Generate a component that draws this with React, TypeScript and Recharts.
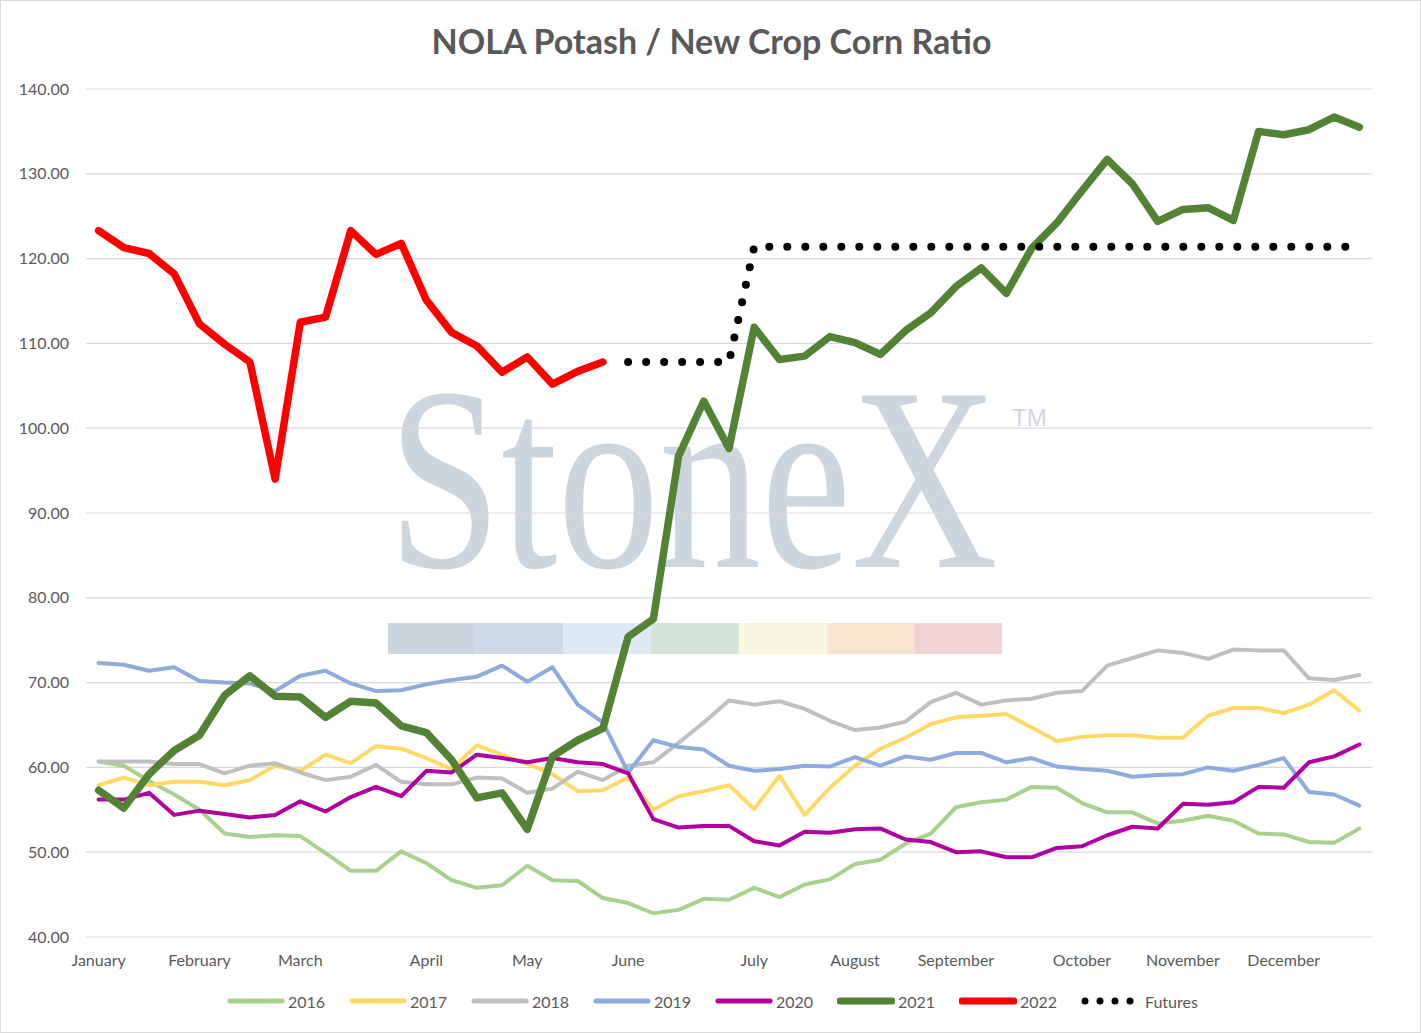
import { LineChart, Line, XAxis, YAxis, CartesianGrid } from "recharts";

// week-of-year category labels (only the first week of each month is labelled)
const weeks = [
  "January", "", "", "",
  "February", "", "", "",
  "March", "", "", "", "",
  "April", "", "", "",
  "May", "", "", "",
  "June", "", "", "", "",
  "July", "", "", "",
  "August", "", "", "",
  "September", "", "", "", "",
  "October", "", "", "",
  "November", "", "", "",
  "December", "", "", "",
];

const yTicks = [40, 50, 60, 70, 80, 90, 100, 110, 120, 130, 140];

const s2016 = [
  60.7, 60.2, 58.4, 56.8, 55.0, 52.2, 51.8, 52.0, 51.9, 49.9,
  47.8, 47.8, 50.1, 48.7, 46.7, 45.8, 46.1, 48.4, 46.7, 46.6,
  44.6, 44.0, 42.8, 43.2, 44.5, 44.4, 45.8, 44.7, 46.2, 46.8,
  48.6, 49.1, 51.0, 52.2, 55.3, 55.9, 56.2, 57.7, 57.6, 55.8,
  54.7, 54.7, 53.4, 53.7, 54.3, 53.7, 52.2, 52.1, 51.2, 51.1, 52.8,
];

const s2017 = [
  57.9, 58.8, 57.9, 58.3, 58.3, 57.9, 58.5, 60.2, 59.6, 61.5,
  60.5, 62.5, 62.2, 61.1, 59.8, 62.6, 61.5, 60.4, 59.2, 57.2,
  57.3, 58.8, 55.0, 56.6, 57.2, 57.9, 55.1, 59.0, 54.4, 57.6,
  60.2, 62.2, 63.5, 65.1, 65.9, 66.1, 66.3, 64.7, 63.1, 63.6,
  63.8, 63.8, 63.5, 63.5, 66.1, 67.0, 67.0, 66.4, 67.4, 69.1, 66.7,
];

const s2018 = [
  60.7, 60.7, 60.7, 60.4, 60.4, 59.3, 60.2, 60.5, 59.4, 58.5,
  58.9, 60.3, 58.3, 58.0, 58.0, 58.8, 58.7, 57.0, 57.5, 59.5,
  58.5, 60.2, 60.6, 62.9, 65.3, 67.9, 67.4, 67.8, 66.9, 65.5,
  64.4, 64.7, 65.4, 67.7, 68.8, 67.4, 67.9, 68.1, 68.8, 69.0,
  72.0, 72.9, 73.8, 73.5, 72.8, 73.9, 73.8, 73.8, 70.5, 70.3, 70.9,
];

const s2019 = [
  72.3, 72.1, 71.4, 71.8, 70.2, 70.0, 69.9, 69.0, 70.8, 71.4,
  69.9, 69.0, 69.1, 69.8, 70.3, 70.7, 72.0, 70.1, 71.8, 67.4,
  65.3, 59.4, 63.2, 62.4, 62.1, 60.2, 59.6, 59.8, 60.2, 60.1,
  61.2, 60.2, 61.3, 60.9, 61.7, 61.7, 60.6, 61.1, 60.1, 59.8,
  59.6, 58.9, 59.1, 59.2, 60.0, 59.6, 60.3, 61.1, 57.1, 56.8, 55.5,
];

const s2020 = [
  56.2, 56.2, 57.0, 54.4, 54.9, 54.5, 54.1, 54.4, 56.0, 54.8,
  56.5, 57.7, 56.6, 59.6, 59.4, 61.5, 61.1, 60.6, 61.1, 60.6,
  60.4, 59.3, 53.9, 52.9, 53.1, 53.1, 51.3, 50.8, 52.4, 52.3,
  52.7, 52.8, 51.5, 51.2, 50.0, 50.1, 49.4, 49.4, 50.5, 50.7,
  52.0, 53.0, 52.8, 55.7, 55.6, 55.9, 57.7, 57.6, 60.6, 61.3, 62.7,
];

const s2021 = [
  57.3, 55.2, 59.2, 62.0, 63.8, 68.5, 70.8, 68.4, 68.3, 65.9,
  67.8, 67.6, 64.9, 64.1, 60.9, 56.4, 57.0, 52.7, 61.3, 63.2,
  64.6, 75.4, 77.5, 96.7, 103.2, 97.6, 111.9, 108.1, 108.5, 110.8,
  110.1, 108.7, 111.5, 113.6, 116.7, 118.9, 115.9, 121.2, 124.2, 128.0,
  131.7, 128.8, 124.4, 125.8, 126.0, 124.5, 135.0, 134.6, 135.2, 136.7, 135.5,
];

const s2022 = [
  123.3, 121.3, 120.6, 118.2, 112.3, 109.9, 107.8, 94.0, 112.5, 113.1,
  123.3, 120.5, 121.8, 115.1, 111.3, 109.7, 106.6, 108.4, 105.2, 106.7,
  107.8,
];

const futures = [
  null, null, null, null, null, null, null, null, null, null,
  null, null, null, null, null, null, null, null, null, null,
  null, 107.8, 107.8, 107.8, 107.8, 107.8, 121.4, 121.4, 121.4, 121.4,
  121.4, 121.4, 121.4, 121.4, 121.4, 121.4, 121.4, 121.4, 121.4, 121.4,
  121.4, 121.4, 121.4, 121.4, 121.4, 121.4, 121.4, 121.4, 121.4, 121.4, 121.4,
];

const data = weeks.map((week, i) => ({
  i,
  week,
  y2016: s2016[i],
  y2017: s2017[i],
  y2018: s2018[i],
  y2019: s2019[i],
  y2020: s2020[i],
  y2021: s2021[i],
  y2022: s2022[i] ?? null,
  futures: futures[i],
}));

const series = [
  { key: "y2016", name: "2016", color: "#A9D18E", width: 4 },
  { key: "y2017", name: "2017", color: "#FFD966", width: 4 },
  { key: "y2018", name: "2018", color: "#BFBFBF", width: 4 },
  { key: "y2019", name: "2019", color: "#8FAADC", width: 4 },
  { key: "y2020", name: "2020", color: "#B000A0", width: 4 },
  { key: "y2021", name: "2021", color: "#548235", width: 7.5 },
  { key: "y2022", name: "2022", color: "#FF0000", width: 7.5 },
];

const FONT = "Lato, 'Noto Sans', sans-serif";
const TEXT = "#595959";

const barColors = ["#CDD5DF", "#CFDAE8", "#DDEAF4", "#D3E2D6", "#F7F6DE", "#F9E5CF", "#F1D2D5"];

function Watermark() {
  return (
    <svg width={1421} height={1033} style={{ position: "absolute", left: 0, top: 0 }}>
      <text
        transform="translate(387,566) scale(1,1.29)"
        fontFamily="'Liberation Serif', 'DejaVu Serif', serif"
        fontSize={203}
        fill="#CDD5DF"
        textLength={610}
        lengthAdjust="spacingAndGlyphs"
      >
        StoneX
      </text>
      <text x={1011} y={425} fontFamily="'Liberation Sans Narrow', 'Liberation Sans', sans-serif" fontSize={24} fill="#CDD5DF">
        TM
      </text>
      {barColors.map((c, k) => (
        <rect key={c} x={387 + k * 87.7} y={622} width={87.7} height={31} fill={c} />
      ))}
    </svg>
  );
}

function LegendRow() {
  return (
    <div style={{ position: "absolute", left: 0, top: 988, width: 1421, height: 24, fontFamily: FONT }}>
      {series.map((s, k) => (
        <div key={s.key} style={{ position: "absolute", left: 226 + k * 122, top: 0, height: 24, display: "flex", alignItems: "center" }}>
          <svg width={58} height={12}>
            <line x1={3} y1={6} x2={55} y2={6} stroke={s.color} strokeWidth={s.width > 5 ? 7 : 5} strokeLinecap="round" />
          </svg>
          <span style={{ marginLeft: 3, fontSize: 16, color: TEXT }}>{s.name}</span>
        </div>
      ))}
      <div style={{ position: "absolute", left: 226 + 7 * 122, top: 0, height: 24, display: "flex", alignItems: "center" }}>
        <svg width={58} height={12}>
          <line x1={4} y1={6} x2={52} y2={6} stroke="#000" strokeWidth={7} strokeLinecap="round" strokeDasharray="0 15" />
        </svg>
        <span style={{ marginLeft: 6, fontSize: 16, color: TEXT }}>Futures</span>
      </div>
    </div>
  );
}

export default function App() {
  return (
    <div
      style={{
        position: "absolute",
        left: 0,
        top: 0,
        width: 1421,
        height: 1033,
        boxSizing: "border-box",
        border: "1px solid #d9d9d9",
        background: "#fff",
        overflow: "hidden",
      }}
    >
      <Watermark />
      <div
        style={{
          position: "absolute",
          left: 0,
          top: 19,
          width: 1421,
          textAlign: "center",
          fontFamily: FONT,
          fontWeight: 700,
          fontSize: 34,
          color: TEXT,
        }}
      >
        NOLA Potash / New Crop Corn Ratio
      </div>
      <div style={{ position: "absolute", left: 0, top: 0 }}>
        <LineChart
          width={1421}
          height={1033}
          data={data}
          margin={{ top: 88, right: 50, left: 0, bottom: 67 }}
          style={{ fontFamily: FONT }}
        >
          <CartesianGrid vertical={false} stroke="#d9d9d9" strokeWidth={1.2} />
          <XAxis
            dataKey="i"
            type="category"
            interval={0}
            height={30}
            padding={{ left: 12.6, right: 12.6 }}
            axisLine={false}
            tickLine={false}
            tickMargin={12}
            tickFormatter={(v: number) => weeks[v]}
            tick={{ fill: TEXT, fontSize: 16 }}
          />
          <YAxis
            width={85}
            domain={[40, 140]}
            ticks={yTicks}
            axisLine={false}
            tickLine={false}
            tickMargin={11}
            tickFormatter={(v: number) => v.toFixed(2)}
            tick={{ fill: TEXT, fontSize: 16 }}
          />
          {series.map((s) => (
            <Line
              key={s.key}
              type="linear"
              dataKey={s.key}
              name={s.name}
              stroke={s.color}
              strokeWidth={s.width}
              strokeLinejoin="round"
              strokeLinecap="round"
              dot={false}
              activeDot={false}
              isAnimationActive={false}
            />
          ))}
          <Line
            type="linear"
            dataKey="futures"
            name="Futures"
            stroke="#000"
            strokeWidth={8}
            strokeLinecap="round"
            strokeDasharray="0 18"
            dot={false}
            activeDot={false}
            isAnimationActive={false}
          />
        </LineChart>
      </div>
      <LegendRow />
    </div>
  );
}
